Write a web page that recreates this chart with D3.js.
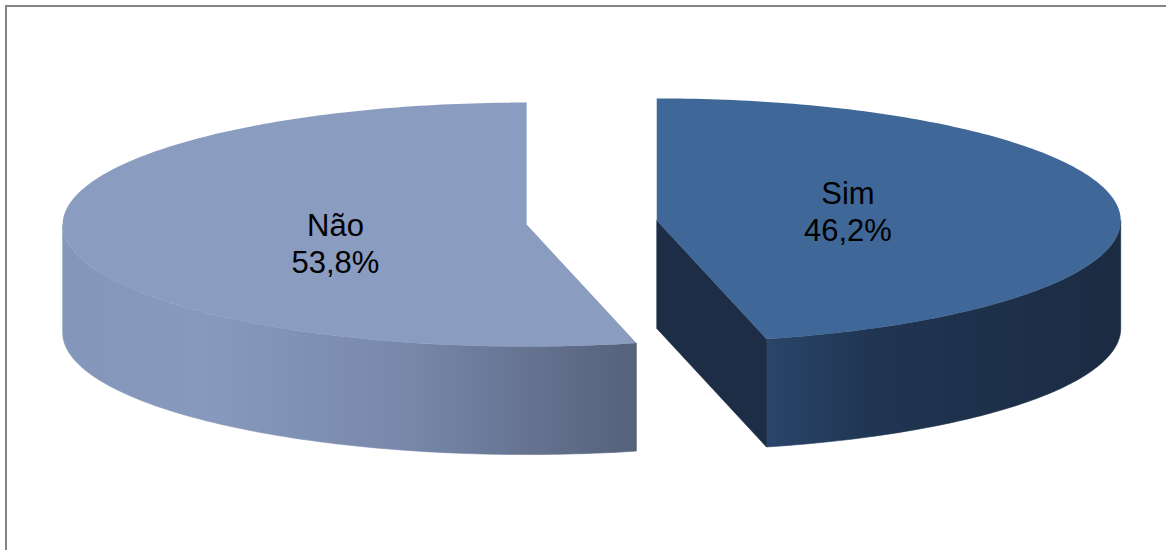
<!DOCTYPE html>
<html>
<head>
<meta charset="utf-8">
<script src="https://cdn.jsdelivr.net/npm/d3@7"></script>
<style>
  body { margin: 0; background: #fff; }
  svg { display: block; }
</style>
</head>
<body>
<div id="chart"></div>
<script>
// Data
const categories = ["Sim", "Não"];
const values = [46.2, 53.8];
const valueLabels = ["46,2%", "53,8%"];

// Pie Configurations
const width = 1166, height = 550;
const center = { x: 591.7, y: 222.5 };
const rx = 464, ry = 122, depth = 108;
const explode = 65.5;

const topColors = ["#3f6899", "#8a9cc0"];
const cutColors = ["#1c2d45", "#56617a"];
const sideStops = [
  [["0%", "#2a456a"], ["30%", "#203552"], ["100%", "#1b2b42"]],
  [["0%", "#8496b9"], ["25%", "#8799bd"], ["60%", "#7788ab"], ["100%", "#56617a"]]
];

const svg = d3.select("#chart")
  .append("svg")
  .attr("width", width)
  .attr("height", height);

// frame
svg.append("rect")
  .attr("x", 6)
  .attr("y", 6)
  .attr("width", 1200)
  .attr("height", 600)
  .attr("fill", "none")
  .attr("stroke", "#858585")
  .attr("stroke-width", 2);

const defs = svg.append("defs");

const pie = d3.pie().sort(null).value(d => d);
const arcs = pie(values);

const line = d3.line();

// project angle (clockwise from top) on the ellipse of a slice
function rim(c, a, z) {
  return [c.x + rx * Math.sin(a), c.y - ry * Math.cos(a) + (z || 0)];
}

function sampleRim(c, a0, a1, z) {
  const n = Math.max(2, Math.ceil(Math.abs(a1 - a0) * 60));
  return d3.range(n + 1).map(i => rim(c, a0 + (a1 - a0) * i / n, z));
}

arcs.forEach((d, i) => {
  const mid = (d.startAngle + d.endAngle) / 2;
  const c = {
    x: center.x + explode * Math.sin(mid),
    y: center.y - explode * (ry / rx) * Math.cos(mid)
  };
  const g = svg.append("g").attr("class", "slice");

  // outer side, only the front half is visible
  const s = Math.max(d.startAngle, Math.PI / 2);
  const e = Math.min(d.endAngle, Math.PI * 1.5);
  if (e > s) {
    const top = sampleRim(c, s, e, 0);
    const bottom = sampleRim(c, e, s, depth);
    const xs = top.map(p => p[0]);
    const grad = defs.append("linearGradient")
      .attr("id", "side" + i)
      .attr("gradientUnits", "userSpaceOnUse")
      .attr("x1", d3.min(xs)).attr("x2", d3.max(xs))
      .attr("y1", 0).attr("y2", 0);
    sideStops[i].forEach(st => grad.append("stop")
      .attr("offset", st[0]).attr("stop-color", st[1]));
    g.append("path")
      .attr("d", line(top.concat(bottom)) + "Z")
      .attr("fill", `url(#side${i})`)
      .attr("stroke", `url(#side${i})`)
      .attr("stroke-width", 0.6);
  }

  // cut faces
  [[d.endAngle, Math.sin(d.endAngle) > 1e-6],
   [d.startAngle, Math.sin(d.startAngle) < -1e-6]].forEach(([a, visible]) => {
    if (!visible) return;
    const p = rim(c, a, 0);
    g.append("path")
      .attr("d", line([[c.x, c.y], p, [p[0], p[1] + depth], [c.x, c.y + depth]]) + "Z")
      .attr("fill", cutColors[i])
      .attr("stroke", cutColors[i])
      .attr("stroke-width", 0.6);
  });

  // top face
  g.append("path")
    .attr("d", line([[c.x, c.y]].concat(sampleRim(c, d.startAngle, d.endAngle, 0))) + "Z")
    .attr("fill", topColors[i]);

  // labels
  const lx = c.x + 0.415 * rx * Math.sin(mid);
  const ly = c.y - 0.97 * ry * Math.cos(mid) + 4.8;
  const t = g.append("text")
    .attr("text-anchor", "middle")
    .style("font-family", "'Liberation Sans', Arial, sans-serif")
    .style("font-size", "31px")
    .attr("fill", "#000");
  t.append("tspan").attr("x", lx).attr("y", ly - 7).text(categories[i]);
  t.append("tspan").attr("x", lx).attr("y", ly + 29.5).text(valueLabels[i]);
});
</script>
</body>
</html>
